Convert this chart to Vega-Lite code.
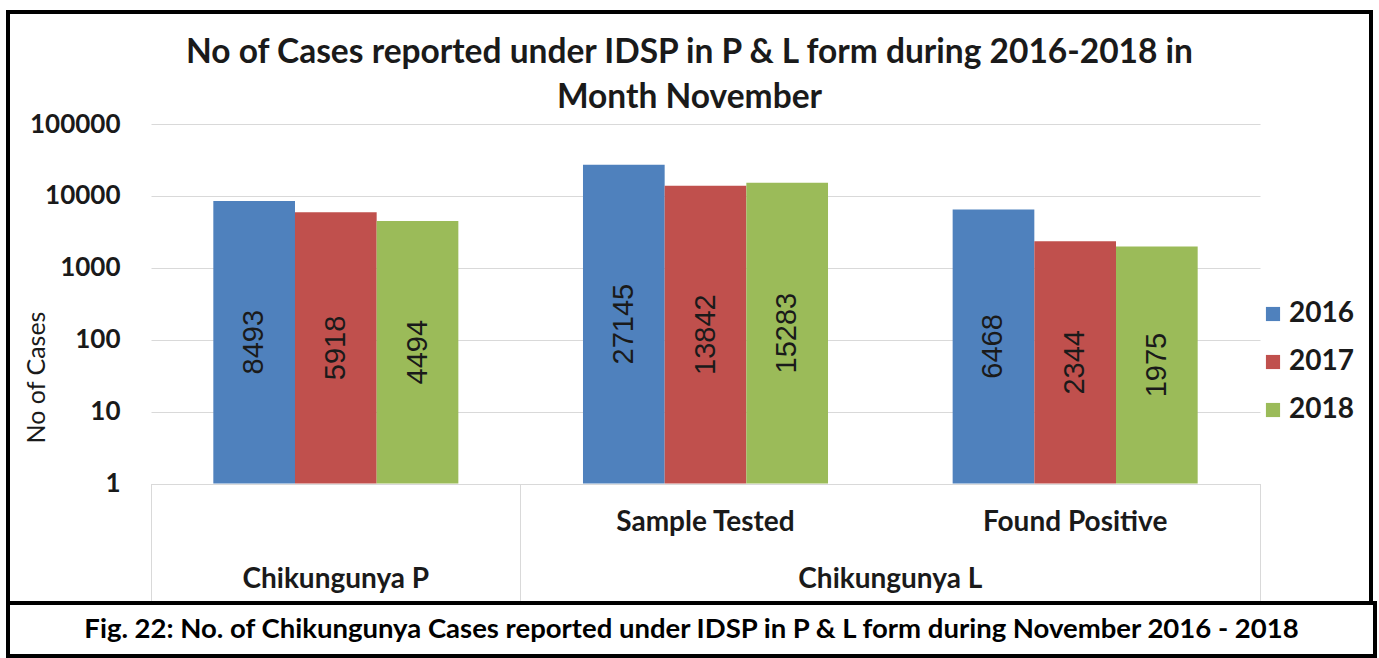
{
  "$schema": "https://vega.github.io/schema/vega-lite/v6.json",
  "padding": {"left": 6, "top": 10, "right": 0, "bottom": 0},
  "autosize": {"type": "pad"},
  "background": "white",
  "spacing": 0,
  "bounds": "flush",
  "config": {"font": "Lato", "view": {"stroke": null}},
  "vconcat": [
    {
      "width": 1363,
      "height": 591,
      "view": {"stroke": "black", "strokeWidth": 4},
      "title": {
        "text": ["No of Cases reported under IDSP in P & L form during 2016-2018 in", "Month November"],
        "font": "Lato",
        "fontSize": 33.5,
        "fontWeight": "bold",
        "color": "#1a1a1a",
        "lineHeight": 45,
        "anchor": "middle",
        "frame": "group",
        "offset": -103
      },
      "data": {
        "values": [
          {"cat": "Chikungunya P", "year": "2016", "value": 8493},
          {"cat": "Chikungunya P", "year": "2017", "value": 5918},
          {"cat": "Chikungunya P", "year": "2018", "value": 4494},
          {"cat": "Sample Tested", "year": "2016", "value": 27145},
          {"cat": "Sample Tested", "year": "2017", "value": 13842},
          {"cat": "Sample Tested", "year": "2018", "value": 15283},
          {"cat": "Found Positive", "year": "2016", "value": 6468},
          {"cat": "Found Positive", "year": "2017", "value": 2344},
          {"cat": "Found Positive", "year": "2018", "value": 1975}
        ]
      },
      "transform": [{"calculate": "sqrt(datum.value)", "as": "mid"}],
      "layer": [
        {
          "mark": {"type": "bar"},
          "encoding": {
            "x": {
              "field": "cat",
              "type": "nominal",
              "sort": ["Chikungunya P", "Sample Tested", "Found Positive"],
              "scale": {"range": [143, 1252], "paddingInner": 0, "paddingOuter": 0},
              "axis": {
                "orient": "bottom",
                "offset": -119.5,
                "title": null,
                "domain": false,
                "bandPosition": 0,
                "ticks": true,
                "tickSize": 120,
                "tickWidth": 1,
                "tickColor": {"condition": {"test": "datum.value === 'Found Positive'", "value": "transparent"}, "value": "#d9d9d9"},
                "labelExpr": "datum.value === 'Chikungunya P' ? ['', 'Chikungunya P'] : datum.value",
                "labelOffset": 0,
                "labelPadding": -95,
                "labelBaseline": "top",
                "labelAngle": 0,
                "labelLineHeight": 57,
                "labelLimit": 0,
                "labelFont": "Lato",
                "labelFontSize": 28,
                "labelFontWeight": "bold",
                "labelColor": "#1a1a1a",
                "labelOverlap": false,
                "labelFlush": false,
                "labelBound": false
              }
            },
            "xOffset": {
              "field": "year",
              "type": "nominal",
              "scale": {"paddingInner": 0, "paddingOuter": 0.763}
            },
            "y": {
              "field": "value",
              "type": "quantitative",
              "scale": {"type": "log", "domain": [1, 100000], "range": [471.5, 112], "nice": false},
              "axis": {
                "orient": "left",
                "offset": -143,
                "values": [1, 10, 100, 1000, 10000, 100000],
                "format": "d",
                "domain": false,
                "ticks": false,
                "tickSize": 0,
                "grid": true,
                "gridColor": "#d9d9d9",
                "gridWidth": 1,
                "labelFont": "Lato",
                "labelFontSize": 26,
                "labelFontWeight": "bold",
                "labelColor": "#1a1a1a",
                "labelPadding": 31,
                "labelOverlap": false,
                "title": "No of Cases",
                "titleFont": "Lato",
                "titleFontSize": 25,
                "titleFontWeight": "normal",
                "titleColor": "#1a1a1a",
                "titleX": -115,
                "titleY": 365,
                "titleAngle": 270,
                "titleAlign": "center",
                "titleBaseline": "middle"
              }
            },
            "y2": {"datum": 1},
            "color": {
              "field": "year",
              "type": "nominal",
              "scale": {"domain": ["2016", "2017", "2018"], "range": ["#4F81BD", "#C0504D", "#9BBB59"]},
              "legend": {
                "orient": "none",
                "legendX": 1251,
                "legendY": 288,
                "title": null,
                "symbolType": "square",
                "symbolSize": 200,
                "symbolStrokeWidth": 0,
                "labelFont": "Lato",
                "labelFontSize": 28,
                "labelFontWeight": "bold",
                "labelColor": "#1a1a1a",
                "labelOffset": 2,
                "rowPadding": 20,
                "padding": 0
              }
            }
          }
        },
        {
          "mark": {"type": "text", "angle": 270, "font": "Liberation Sans", "fontSize": 29, "color": "#1a1a1a", "align": "center", "baseline": "middle"},
          "encoding": {
            "x": {
              "field": "cat",
              "type": "nominal",
              "sort": ["Chikungunya P", "Sample Tested", "Found Positive"],
              "axis": {
                "orient": "bottom",
                "offset": -119.5,
                "title": null,
                "domain": false,
                "bandPosition": 1,
                "ticks": true,
                "tickSize": 120,
                "tickWidth": 1,
                "tickColor": {"condition": {"test": "datum.value === 'Sample Tested'", "value": "transparent"}, "value": "#d9d9d9"},
                "labelExpr": "datum.value === 'Sample Tested' ? 'Chikungunya L' : ''",
                "labelOffset": 184.8,
                "labelPadding": -38,
                "labelBaseline": "top",
                "labelAngle": 0,
                "labelLimit": 0,
                "labelFont": "Lato",
                "labelFontSize": 28,
                "labelFontWeight": "bold",
                "labelColor": "#1a1a1a",
                "labelOverlap": false,
                "labelFlush": false,
                "labelBound": false
              }
            },
            "xOffset": {"field": "year", "type": "nominal"},
            "y": {
              "field": "mid",
              "type": "quantitative",
              "scale": {"type": "log", "domain": [1, 100000], "range": [471.5, 112], "nice": false},
              "axis": {
                "orient": "left",
                "offset": -143,
                "values": [1, 10, 100, 1000, 10000, 100000],
                "format": "d",
                "domain": false,
                "ticks": false,
                "tickSize": 0,
                "grid": true,
                "gridColor": "#d9d9d9",
                "gridWidth": 1,
                "labelFont": "Lato",
                "labelFontSize": 26,
                "labelFontWeight": "bold",
                "labelColor": "#1a1a1a",
                "labelPadding": 31,
                "labelOverlap": false,
                "title": "No of Cases",
                "titleFont": "Lato",
                "titleFontSize": 25,
                "titleFontWeight": "normal",
                "titleColor": "#1a1a1a",
                "titleX": -115,
                "titleY": 365,
                "titleAngle": 270,
                "titleAlign": "center",
                "titleBaseline": "middle"
              }
            },
            "text": {"field": "value", "type": "quantitative", "format": "d"}
          }
        }
      ],
      "resolve": {"axis": {"x": "independent"}}
    },
    {
      "width": 1367,
      "height": 53,
      "view": {"stroke": "black", "strokeWidth": 4},
      "data": {"values": [{"caption": "Fig. 22: No. of Chikungunya Cases reported under IDSP in P & L form during November 2016 - 2018"}]},
      "mark": {"type": "text", "font": "Lato", "fontSize": 27.5, "fontWeight": "bold", "color": "black", "align": "center", "baseline": "middle"},
      "encoding": {"text": {"field": "caption", "type": "nominal"}}
    }
  ]
}
